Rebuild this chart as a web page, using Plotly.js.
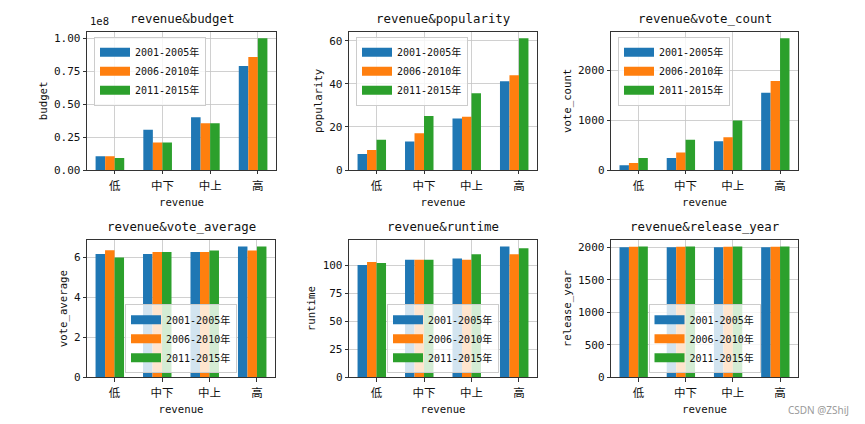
<!DOCTYPE html>
<html>
<head>
<meta charset="utf-8">
<script src="https://cdn.plot.ly/plotly-3.0.1.min.js"></script>
<style>html,body{margin:0;padding:0;background:#fff;}#chart{width:865px;height:424px;}</style>
</head>
<body>
<div id="chart"></div>
<script>
// ---- data ----
const categories = ['低', '中下', '中上', '高'];
const seriesNames = ['2001-2005年', '2006-2010年', '2011-2015年'];
const xLabel = 'revenue';

const budget = [
  [1.05e7, 3.05e7, 4.00e7, 7.90e7],
  [1.05e7, 2.08e7, 3.55e7, 8.58e7],
  [0.91e7, 2.08e7, 3.55e7, 1.00e8]
];
const popularity = [
  [7.4, 13.3, 23.9, 41.2],
  [9.3, 17.1, 24.7, 44.0],
  [14.0, 25.1, 35.7, 61.2]
];
const vote_count = [
  [94, 241, 577, 1548],
  [141, 349, 658, 1783],
  [241, 604, 993, 2640]
];
const vote_average = [
  [6.17, 6.17, 6.28, 6.55],
  [6.37, 6.28, 6.28, 6.35],
  [6.00, 6.28, 6.35, 6.55]
];
const runtime = [
  [100.0, 104.7, 105.9, 116.5],
  [102.7, 104.7, 104.7, 109.7],
  [101.8, 104.7, 109.7, 115.0]
];
const release_year = [
  [2003, 2003, 2003, 2003],
  [2008, 2008, 2008, 2008],
  [2013, 2013, 2013, 2013]
];
const budgetTickVals = [0, 0.25e8, 0.5e8, 0.75e8, 1.0e8];
const budgetTickText = ['0.00', '0.25', '0.50', '0.75', '1.00'];

// ---- styling ----
const colors = ['#1f77b4', '#ff7f0e', '#2ca02c'];
const FONT = '"DejaVu Sans Mono", "Noto Sans CJK SC", monospace';
const TXT = '#111111';
const W = 865, H = 424;

const panels = [
  {metric: 'budget', data: budget, dtick: null, px: [87, 276], py: [31.7, 170], legend: 'top'},
  {metric: 'popularity', data: popularity, dtick: 20, px: [349, 537], py: [31.7, 170], legend: 'top'},
  {metric: 'vote_count', data: vote_count, dtick: 1000, px: [611, 798], py: [31.7, 170], legend: 'top'},
  {metric: 'vote_average', data: vote_average, dtick: 2, px: [87, 275], py: [240, 377.3], legend: 'bottom'},
  {metric: 'runtime', data: runtime, dtick: 25, px: [349, 537], py: [240, 377.3], legend: 'bottom'},
  {metric: 'release_year', data: release_year, dtick: 500, px: [611, 798], py: [240, 377.3], legend: 'bottom'}
];

const barWidth = 0.2;
const offsets = [-0.4, -0.2, 0.0];
const xIdx = categories.map((c, i) => i);

const traces = [];
const layout = {
  width: W, height: H,
  margin: {l: 0, r: 0, t: 0, b: 0},
  paper_bgcolor: '#fff', plot_bgcolor: '#fff',
  barmode: 'overlay',
  showlegend: true,
  font: {family: FONT, color: TXT, size: 11},
  annotations: []
};

panels.forEach((p, k) => {
  const n = k + 1;
  const xa = 'xaxis' + (n === 1 ? '' : n), ya = 'yaxis' + (n === 1 ? '' : n);
  const xr = 'x' + (n === 1 ? '' : n), yr = 'y' + (n === 1 ? '' : n);
  const lg = 'legend' + (n === 1 ? '' : n);
  let maxV = 0;
  p.data.forEach((vals, s) => {
    vals.forEach(v => { if (v > maxV) maxV = v; });
    traces.push({
      type: 'bar', x: xIdx, y: vals, xaxis: xr, yaxis: yr,
      width: barWidth, offset: offsets[s],
      marker: {color: colors[s], line: {width: 0}},
      opacity: 1, showlegend: false, hoverinfo: 'skip'
    });
  });
  seriesNames.forEach((nm, s) => {
    traces.push({
      type: 'scatter', mode: 'lines', x: [null], y: [null], xaxis: xr, yaxis: yr,
      name: nm, legend: lg, line: {color: colors[s], width: 9}, showlegend: true
    });
  });
  const dom = [p.px[0] / W, p.px[1] / W];
  layout[xa] = {
    domain: dom, anchor: yr, range: [-0.58, 3.38],
    tickmode: 'array', tickvals: xIdx, ticktext: categories,
    showgrid: true, gridcolor: '#c4c4c4', gridwidth: 0.8,
    zeroline: false, showline: true, mirror: true, linecolor: '#000', linewidth: 0.8,
    ticks: 'outside', ticklen: 3.5, tickwidth: 0.8, tickcolor: '#000',
    ticklabelstandoff: 2,
    tickfont: {size: 11.5, family: FONT, color: TXT},
    title: {text: xLabel, font: {size: 10.7, family: FONT, color: TXT}, standoff: 6},
    automargin: false, fixedrange: true
  };
  const yax = {
    domain: [1 - p.py[1] / H, 1 - p.py[0] / H], anchor: xr, range: [0, maxV * 1.05],
    showgrid: true, gridcolor: '#c4c4c4', gridwidth: 0.8,
    zeroline: false, showline: true, mirror: true, linecolor: '#000', linewidth: 0.8,
    ticks: 'outside', ticklen: 3.5, tickwidth: 0.8, tickcolor: '#000',
    tickfont: {size: 11, family: FONT, color: TXT},
    title: {text: p.metric, font: {size: 10.7, family: FONT, color: TXT}, standoff: 4},
    automargin: false, fixedrange: true
  };
  if (p.metric === 'budget') {
    yax.tickmode = 'array'; yax.tickvals = budgetTickVals; yax.ticktext = budgetTickText;
  } else {
    yax.tickmode = 'linear'; yax.tick0 = 0; yax.dtick = p.dtick;
  }
  layout[ya] = yax;

  const lgObj = {
    bgcolor: 'rgba(255,255,255,0.8)', bordercolor: '#cccccc', borderwidth: 1,
    font: {size: 10, family: FONT, color: TXT},
    itemclick: false, itemdoubleclick: false, tracegroupgap: 0
  };
  if (p.legend === 'top') {
    lgObj.x = (p.px[0] + 7) / W; lgObj.xanchor = 'left';
    lgObj.y = 1 - (p.py[0] + 5) / H; lgObj.yanchor = 'top';
  } else {
    lgObj.x = (p.px[0] + p.px[1]) / 2 / W; lgObj.xanchor = 'center';
    lgObj.y = 1 - (p.py[1] - 4) / H; lgObj.yanchor = 'bottom';
  }
  layout[lg] = lgObj;

  layout.annotations.push({
    text: 'revenue&' + p.metric, xref: 'paper', yref: 'paper',
    x: (p.px[0] + p.px[1]) / 2 / W, y: 1 - (p.py[0] - 4) / H,
    xanchor: 'center', yanchor: 'bottom', showarrow: false,
    font: {size: 12.4, family: FONT, color: TXT}
  });
});

layout.annotations.push({
  text: '1e8', xref: 'paper', yref: 'paper', x: 88 / W, y: 1 - 29 / H,
  xanchor: 'left', yanchor: 'bottom', showarrow: false,
  font: {size: 10.5, family: FONT, color: TXT}
});
layout.annotations.push({
  text: 'CSDN @ZShiJ', xref: 'paper', yref: 'paper', x: 851 / W, y: 1 - 410 / H,
  xanchor: 'right', yanchor: 'middle', showarrow: false,
  font: {size: 10, family: '"Noto Sans", sans-serif', color: '#9a9a9a'}
});

Plotly.newPlot('chart', traces, layout, {displayModeBar: false, staticPlot: true});
</script>
</body>
</html>
